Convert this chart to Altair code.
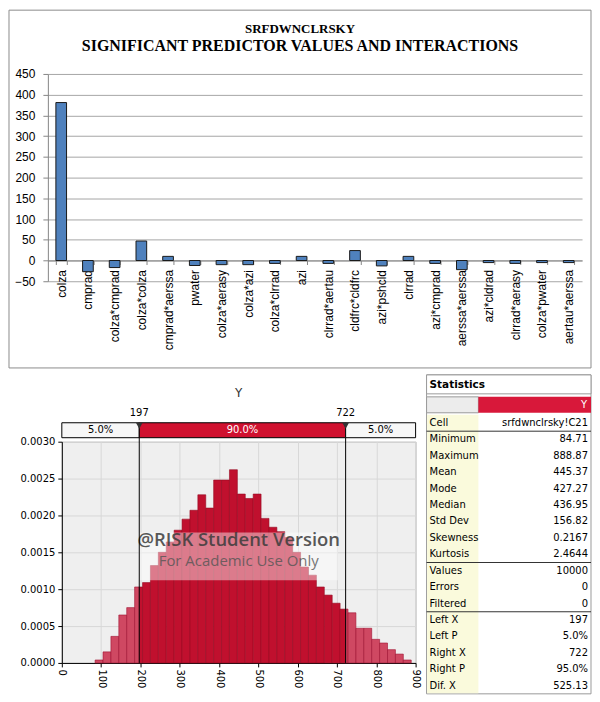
import altair as alt
import pandas as pd
import numpy as np

# ---------------- data ----------------
TITLE_1 = "SRFDWNCLRSKY"
TITLE_2 = "SIGNIFICANT PREDICTOR VALUES AND INTERACTIONS"

predictors = ["colza", "cmprad", "colza*cmprad", "colza*colza", "cmprad*aerssa",
              "pwater", "colza*aerasy", "colza*azi", "colza*clrrad", "azi",
              "clrrad*aertau", "cldfrc*cldfrc", "azi*pshcld", "clrrad", "azi*cmprad",
              "aerssa*aerssa", "azi*cldrad", "clrrad*aerasy", "colza*pwater", "aertau*aerssa"]
coefficients = [381, -27, -17, 47, 10, -12, -10, -10, -7, 10,
                -7, 24, -13, 10, -7, -22, -5, -7, -5, -5]
top_y_ticks = [-50, 0, 50, 100, 150, 200, 250, 300, 350, 400, 450]

hist_title = "Y"
hist_min, hist_max, n_bins = 84.71, 888.87, 40
densities = [0.00004, 0.00015, 0.00036, 0.00065, 0.00075, 0.00103, 0.00109, 0.00132,
             0.00150, 0.00164, 0.00180, 0.00195, 0.00207, 0.00228, 0.00210, 0.00248,
             0.00248, 0.00262, 0.00229, 0.00223, 0.00229, 0.00196, 0.00184, 0.00178,
             0.00170, 0.00150, 0.00130, 0.00119, 0.00103, 0.00092, 0.00081, 0.00073,
             0.00068, 0.00047, 0.00047, 0.00032, 0.00027, 0.00018, 0.00012, 0.00004]
left_x, right_x = 197, 722
hist_x_ticks = [0, 100, 200, 300, 400, 500, 600, 700, 800, 900]
hist_y_ticks = [0.0, 0.0005, 0.0010, 0.0015, 0.0020, 0.0025, 0.0030]
band_labels = ["5.0%", "90.0%", "5.0%"]
watermark_lines = ["@RISK Student Version", "For Academic Use Only"]

stat_labels = ["Cell", "Minimum", "Maximum", "Mean", "Mode", "Median", "Std Dev",
               "Skewness", "Kurtosis", "Values", "Errors", "Filtered",
               "Left X", "Left P", "Right X", "Right P", "Dif. X"]
stat_values = ["srfdwnclrsky!C21", "84.71", "888.87", "445.37", "427.27", "436.95",
               "156.82", "0.2167", "2.4644", "10000", "0", "0",
               "197", "5.0%", "722", "95.0%", "525.13"]
separator_after = ["Cell", "Kurtosis", "Filtered"]

one = pd.DataFrame({"k": [0]})

# ---------------- top chart ----------------
W1, H1 = 536, 208
ymin, ymax = top_y_ticks[0], top_y_ticks[-1]
zero_offset = -H1 * (0 - ymin) / (ymax - ymin)

df_top = pd.DataFrame({"predictor": predictors, "value": coefficients})
bars = alt.Chart(df_top).mark_bar(fill="#4f81bd", stroke="#1a1a1a", strokeWidth=1).encode(
    x=alt.X("predictor:N", sort=predictors,
            scale=alt.Scale(paddingInner=0.6, paddingOuter=0.3),
            axis=alt.Axis(title=None, labelAngle=270, offset=zero_offset,
                          tickBand="extent", tickSize=4, tickColor="#868686",
                          domainColor="#868686", labelPadding=5, labelOverlap=False,
                          labelFont="Liberation Sans", labelFontSize=12,
                          labelColor="black")),
    y=alt.Y("value:Q", scale=alt.Scale(domain=[ymin, ymax], nice=False),
            axis=alt.Axis(title=None, values=top_y_ticks, grid=True, gridColor="#a6a6a6",
                          domainColor="#868686", tickColor="#868686", tickSize=5,
                          labelPadding=8, labelFont="Liberation Sans", labelFontSize=12,
                          labelColor="black")),
)

frame = alt.Chart(one).mark_rect(
    fill="white", fillOpacity=0, stroke="#8c8c8c", strokeWidth=1).encode(
    x=alt.value(-39), x2=alt.value(545), y=alt.value(-64), y2=alt.value(295))

t1 = alt.Chart(pd.DataFrame({"t": [TITLE_1]})).mark_text(
    font="Liberation Serif", fontSize=13, fontWeight="bold", color="black",
    align="center", baseline="middle").encode(
    text="t:N", x=alt.value(253), y=alt.value(-45))
t2 = alt.Chart(pd.DataFrame({"t": [TITLE_2]})).mark_text(
    font="Liberation Serif", fontSize=16, fontWeight="bold", color="black",
    align="center", baseline="middle").encode(
    text="t:N", x=alt.value(253), y=alt.value(-28))

top = alt.layer(frame, bars, t1, t2).properties(width=W1, height=H1)

# ---------------- histogram ----------------
W2, H2 = 355, 222
edges = np.linspace(hist_min, hist_max, n_bins + 1)
regions = [(0, left_x, "tail"), (left_x, right_x, "mid"), (right_x, hist_x_ticks[-1], "tail")]
rows = []
for i, d in enumerate(densities):
    e0, e1 = edges[i], edges[i + 1]
    for lo, hi, reg in regions:
        a, b = max(e0, lo), min(e1, hi)
        if b > a:
            rows.append({"start": a, "end": b, "density": d, "region": reg})
df_hist = pd.DataFrame(rows)

xs = alt.Scale(domain=[hist_x_ticks[0], hist_x_ticks[-1]], nice=False)
ys = alt.Scale(domain=[0, hist_y_ticks[-1]], nice=False)
ax_font = dict(labelFont="DejaVu Sans", labelFontSize=10, labelColor="black",
               domainColor="black", tickColor="black", tickSize=4, labelOverlap=False,
               grid=True, gridColor="#d8d8d8", title=None)
hx_axis = alt.Axis(values=hist_x_ticks, tickCount=len(hist_x_ticks), labelAngle=90,
                   labelPadding=2, labelFlush=False, **ax_font)
hy_axis = alt.Axis(values=hist_y_ticks, tickCount=len(hist_y_ticks), format=".4f",
                   labelPadding=3, **ax_font)

hist_base = alt.Chart(df_hist)
mid_bars = hist_base.transform_filter("datum.region == 'mid'").mark_rect(
    fill="#c0102e", stroke="#960a22", strokeWidth=0.6).encode(
    x=alt.X("start:Q", scale=xs, axis=hx_axis), x2="end:Q",
    y=alt.Y("density:Q", scale=ys, axis=hy_axis), y2=alt.datum(0))
tail_bars = hist_base.transform_filter("datum.region == 'tail'").mark_rect(
    fill="#cf4862", stroke="#a01030", strokeWidth=0.6).encode(
    x=alt.X("start:Q", scale=xs, axis=hx_axis), x2="end:Q",
    y=alt.Y("density:Q", scale=ys, axis=hy_axis), y2=alt.datum(0))

df_pct = pd.DataFrame({"v": [left_x, right_x], "lab": [str(left_x), str(right_x)]})
pct_lines = alt.Chart(df_pct).mark_rule(color="black", strokeWidth=1).encode(
    x=alt.X("v:Q", scale=xs, axis=hx_axis), y=alt.value(-19), y2=alt.value(H2))
pct_tri = alt.Chart(df_pct).mark_point(shape="triangle-down", filled=True, size=45,
                                       color="#333333", opacity=1).encode(
    x=alt.X("v:Q", scale=xs, axis=hx_axis), y=alt.value(-16))
pct_text = alt.Chart(df_pct).mark_text(font="DejaVu Sans", fontSize=10, color="black",
                                       baseline="middle").encode(
    x=alt.X("v:Q", scale=xs, axis=hx_axis), y=alt.value(-29), text="lab:N")

df_band = pd.DataFrame({"lo": [hist_x_ticks[0], left_x, right_x],
                        "hi": [left_x, right_x, hist_x_ticks[-1]],
                        "lab": band_labels, "kind": ["tail", "mid", "tail"]})
band_rect = alt.Chart(df_band).mark_rect(stroke="black", strokeWidth=1).encode(
    x=alt.X("lo:Q", scale=xs, axis=hx_axis), x2="hi:Q",
    y=alt.value(-19), y2=alt.value(-4),
    fill=alt.condition("datum.kind == 'mid'", alt.value("#d0112f"), alt.value("#f7f7f7")))
band_text = alt.Chart(df_band).transform_calculate(mid="(datum.lo + datum.hi) / 2").mark_text(
    font="DejaVu Sans", fontSize=10, baseline="middle").encode(
    x=alt.X("mid:Q", scale=xs, axis=hx_axis), y=alt.value(-11.5), text="lab:N",
    color=alt.condition("datum.kind == 'mid'", alt.value("white"), alt.value("black")))

ytitle = alt.Chart(pd.DataFrame({"t": [hist_title]})).mark_text(
    font="DejaVu Sans", fontSize=12, color="#333333", baseline="middle").encode(
    x=alt.value(W2 / 2), y=alt.value(-49), text="t:N")

wm_box = alt.Chart(one).mark_rect(fill="white", opacity=0.45).encode(
    x=alt.value(77), x2=alt.value(277), y=alt.value(91), y2=alt.value(139))
wm1 = alt.Chart(pd.DataFrame({"t": [watermark_lines[0]]})).mark_text(
    font="Open Sans", fontSize=18.5, fontWeight=600, color="#3c3c3c", opacity=0.85,
    baseline="middle").encode(x=alt.value(W2 / 2), y=alt.value(99), text="t:N")
wm2 = alt.Chart(pd.DataFrame({"t": [watermark_lines[1]]})).mark_text(
    font="Open Sans", fontSize=15, color="#555555", opacity=0.8,
    baseline="middle").encode(x=alt.value(W2 / 2), y=alt.value(120), text="t:N")

hist = alt.layer(mid_bars, tail_bars, wm_box, wm1, wm2, pct_lines, band_rect,
                 band_text, pct_tri, pct_text, ytitle).properties(
    width=W2, height=H2, view=alt.ViewBackground(fill="#efefef", stroke="#b4b4b4"))

# spacer so the histogram sits to the right of the top chart's axis
spacer = alt.Chart(one).mark_rect(opacity=0).encode(
    x=alt.value(0), x2=alt.value(1), y=alt.value(0), y2=alt.value(1)).properties(
    width=3, height=10)

# ---------------- statistics table ----------------
W3 = 165
TOP, BOT = -67, 253          # table extent relative to the histogram's plot top
ROWS_TOP = -27
df_tab = pd.DataFrame({"label": stat_labels, "val": stat_values})
yscale = alt.Scale(type="band", domain=stat_labels, range=[ROWS_TOP, BOT],
                   paddingInner=0, paddingOuter=0)

tab_border = alt.Chart(one).mark_rect(fill="white", stroke="#9a9a9a").encode(
    x=alt.value(0), x2=alt.value(W3), y=alt.value(TOP), y2=alt.value(BOT))
tab_bg = alt.Chart(one).mark_rect(fill="#fafadc").encode(
    x=alt.value(0.5), x2=alt.value(52), y=alt.value(ROWS_TOP), y2=alt.value(BOT - 0.5))
tab_lab = alt.Chart(df_tab).mark_text(font="DejaVu Sans", fontSize=10, color="black",
                                      align="left", baseline="middle").encode(
    x=alt.value(3), y=alt.Y("label:N", scale=yscale, axis=None), text="label:N")
tab_val = alt.Chart(df_tab).mark_text(font="DejaVu Sans", fontSize=10, color="black",
                                      align="right", baseline="middle").encode(
    x=alt.value(W3 - 3), y=alt.Y("label:N", scale=yscale, axis=None), text="val:N")
tab_sep = alt.Chart(pd.DataFrame({"label": separator_after})).mark_rule(
    color="#333333", strokeWidth=1).encode(
    x=alt.value(0), x2=alt.value(W3),
    y=alt.Y("label:N", scale=yscale, axis=None, bandPosition=1))
hdr_box = alt.Chart(one).mark_rect(fill="white", stroke="#9a9a9a").encode(
    x=alt.value(0), x2=alt.value(W3), y=alt.value(TOP), y2=alt.value(-48))
hdr_txt = alt.Chart(pd.DataFrame({"t": ["Statistics"]})).mark_text(
    font="DejaVu Sans", fontSize=10.5, fontWeight="bold", color="black",
    align="left", baseline="middle").encode(x=alt.value(3), y=alt.value(-57), text="t:N")
yrow_grey = alt.Chart(one).mark_rect(fill="#ececec", stroke="#9a9a9a").encode(
    x=alt.value(0), x2=alt.value(52), y=alt.value(-45), y2=alt.value(-29))
yrow_red = alt.Chart(one).mark_rect(fill="#d8183a").encode(
    x=alt.value(52), x2=alt.value(W3), y=alt.value(-45), y2=alt.value(-29))
yrow_txt = alt.Chart(pd.DataFrame({"t": [hist_title]})).mark_text(
    font="DejaVu Sans", fontSize=10, color="white", align="right",
    baseline="middle").encode(x=alt.value(W3 - 4), y=alt.value(-37), text="t:N")

table = alt.layer(tab_border, tab_bg, tab_sep, tab_lab, tab_val, hdr_box, hdr_txt,
                  yrow_grey, yrow_red, yrow_txt).properties(width=W3, height=H2)

bottom = alt.hconcat(spacer, hist, table, spacing=11, bounds="flush")
chart = alt.vconcat(top, bottom, spacing=441 - 280, bounds="flush").properties(
    padding={"left": 0, "top": 0, "right": 0, "bottom": 0},
    background="white").configure_view(stroke=None).configure_axis(labelOverlap=False)

chart.save("out.html", embed_options={"renderer": "svg", "actions": False})
